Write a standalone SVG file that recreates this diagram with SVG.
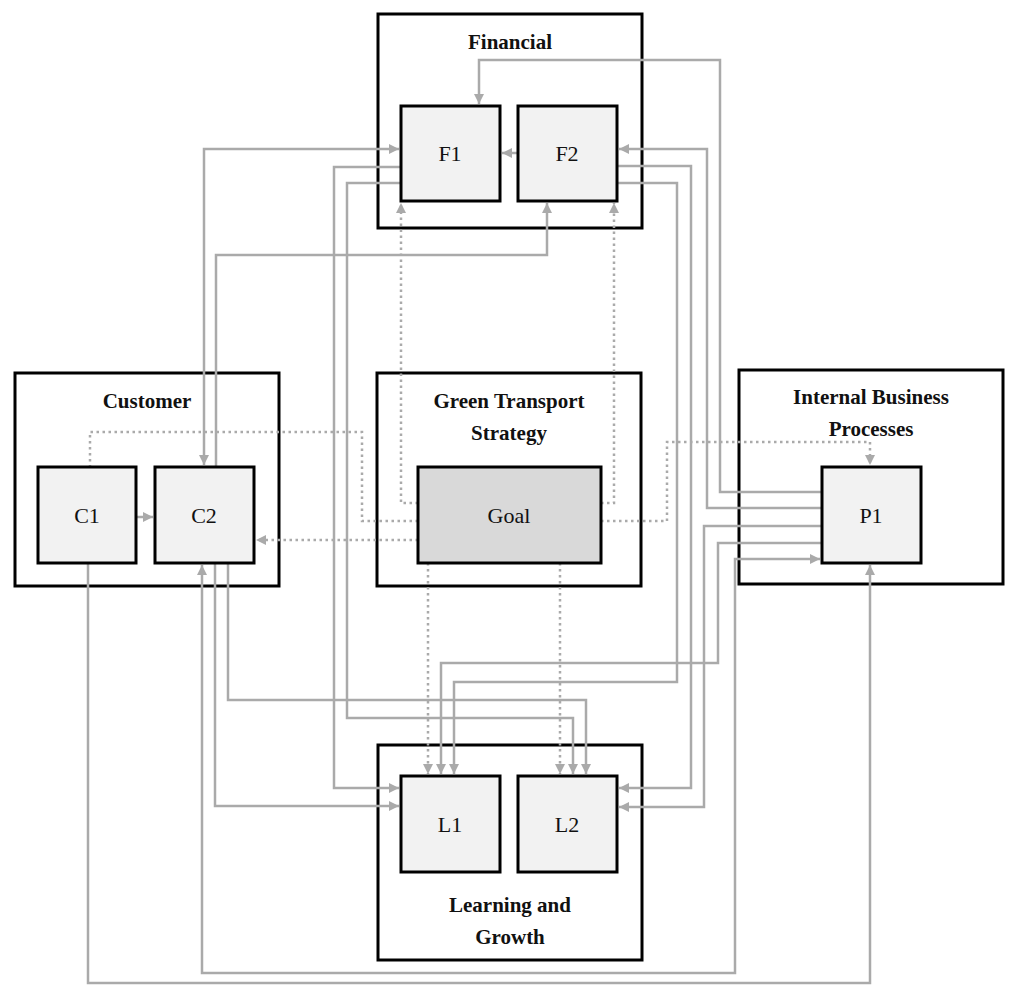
<svg xmlns="http://www.w3.org/2000/svg" width="1024" height="1004" viewBox="0 0 1024 1004">
<style>
.outer{fill:#fff;stroke:#000;stroke-width:3}
.box{fill:#f2f2f2;stroke:#000;stroke-width:3}
.goal{fill:#d9d9d9;stroke:#000;stroke-width:3}
.t{font-family:"Liberation Serif",serif;font-size:22px;text-anchor:middle;fill:#111}
.b{font-weight:bold;font-size:21px}
.c{fill:none;stroke:#aaa;stroke-width:2.5}
.d{fill:none;stroke:#aaa;stroke-width:2.5;stroke-dasharray:2.5 3.5}
</style>
<defs>
<marker id="a" viewBox="0 0 10 10" refX="10" refY="5" markerWidth="11" markerHeight="10" orient="auto-start-reverse" markerUnits="userSpaceOnUse"><path d="M0,0L10,5L0,10z" fill="#aaa"/></marker>
</defs>
<rect width="1024" height="1004" fill="#fff"/>
<g id="financial"><rect class="outer" x="378" y="14" width="264" height="214"/><text class="t b" x="510" y="49">Financial</text></g>
<g id="customer"><rect class="outer" x="15" y="373" width="264" height="213"/><text class="t b" x="147" y="408">Customer</text></g>
<g id="strategy"><rect class="outer" x="377" y="373" width="264" height="213"/><text class="t b" x="509" y="408">Green Transport</text><text class="t b" x="509" y="440">Strategy</text></g>
<g id="ibp"><rect class="outer" x="739" y="370" width="264" height="214"/><text class="t b" x="871" y="404">Internal Business</text><text class="t b" x="871" y="436">Processes</text></g>
<g id="lg"><rect class="outer" x="378" y="745" width="264" height="215"/><text class="t b" x="510" y="912">Learning and</text><text class="t b" x="510" y="944">Growth</text></g>
<g id="connectors">
<path class="d" d="M418,503H401V203" marker-end="url(#a)"/>
<path class="d" d="M601,503H614V203" marker-end="url(#a)"/>
<path class="d" d="M418,521H362V432H90V467"/>
<path class="d" d="M418,540H256" marker-end="url(#a)"/>
<path class="d" d="M601,521H667V442H870V465" marker-end="url(#a)"/>
<path class="d" d="M428,563V774" marker-end="url(#a)"/>
<path class="d" d="M560,563V774" marker-end="url(#a)"/>
<path class="c" d="M518,153H502" marker-end="url(#a)"/>
<path class="c" d="M136,517H153" marker-end="url(#a)"/>
<path class="c" d="M822,492H720V60H479V104" marker-end="url(#a)"/>
<path class="c" d="M822,508H707V149H619" marker-end="url(#a)"/>
<path class="c" d="M822,526H704V807H619" marker-end="url(#a)"/>
<path class="c" d="M822,543H718V663H441V774" marker-end="url(#a)"/>
<path class="c" d="M617,166H691V788H619" marker-end="url(#a)"/>
<path class="c" d="M617,183H677V682H454V774" marker-end="url(#a)"/>
<path class="c" d="M204,465V149H399" marker-start="url(#a)" marker-end="url(#a)"/>
<path class="c" d="M216,467V255H547V203" marker-end="url(#a)"/>
<path class="c" d="M401,167H334V788H399" marker-end="url(#a)"/>
<path class="c" d="M401,183H347V718H573V774" marker-end="url(#a)"/>
<path class="c" d="M228,563V700H586V774" marker-end="url(#a)"/>
<path class="c" d="M215,563V806H399" marker-end="url(#a)"/>
<path class="c" d="M202,565V973H735V559H820" marker-start="url(#a)" marker-end="url(#a)"/>
<path class="c" d="M88,563V983H870V565" marker-end="url(#a)"/>
</g>
<g id="F1"><rect class="box" x="401" y="106" width="99" height="95"/><text class="t" x="450" y="161">F1</text></g>
<g id="F2"><rect class="box" x="518" y="106" width="99" height="95"/><text class="t" x="567" y="161">F2</text></g>
<g id="C1"><rect class="box" x="38" y="467" width="98" height="96"/><text class="t" x="87" y="523">C1</text></g>
<g id="C2"><rect class="box" x="155" y="467" width="99" height="96"/><text class="t" x="204" y="523">C2</text></g>
<g id="Goal"><rect class="goal" x="418" y="467" width="183" height="96"/><text class="t" x="509" y="523">Goal</text></g>
<g id="P1"><rect class="box" x="822" y="467" width="99" height="96"/><text class="t" x="871" y="523">P1</text></g>
<g id="L1"><rect class="box" x="401" y="776" width="99" height="96"/><text class="t" x="450" y="832">L1</text></g>
<g id="L2"><rect class="box" x="518" y="776" width="99" height="96"/><text class="t" x="567" y="832">L2</text></g>
</svg>
